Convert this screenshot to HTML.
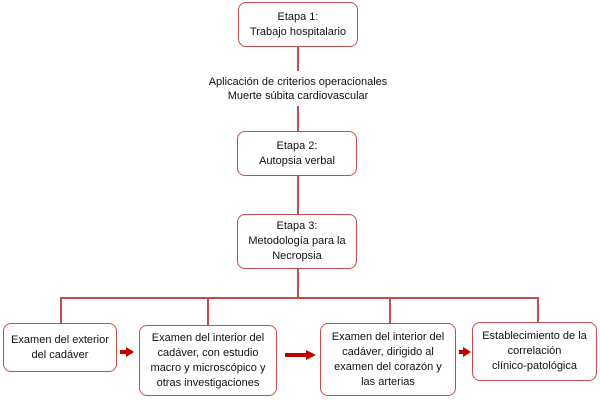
<!DOCTYPE html>
<html><head><meta charset="utf-8"><style>
body{margin:0;width:600px;height:401px;background:#fff;position:relative;overflow:hidden;font-family:"Liberation Sans",sans-serif;font-size:11px;color:#111}
.b{position:absolute;border:1.5px solid #c0504d;border-radius:8px;box-sizing:border-box;display:flex;align-items:center;justify-content:center;text-align:center;line-height:15px;background:#fff}
.l{position:absolute;background:#c0504d}
.t{position:absolute;text-align:center;line-height:14px}
</style></head><body>
<div class="b" style="left:238px;top:2px;width:120px;height:45px">Etapa 1:<br>Trabajo hospitalario</div>
<div class="l" style="left:297px;top:47px;width:1.5px;height:24px"></div>
<div class="t" style="left:150px;top:75px;width:296px">Aplicación de criterios operacionales<br>Muerte súbita cardiovascular</div>
<div class="l" style="left:297px;top:106px;width:1.5px;height:25px"></div>
<div class="b" style="left:237px;top:131px;width:120px;height:45px">Etapa 2:<br>Autopsia verbal</div>
<div class="l" style="left:297px;top:176px;width:1.5px;height:38px"></div>
<div class="b" style="left:237px;top:214px;width:120px;height:55px">Etapa 3:<br>Metodología para la<br>Necropsia</div>
<div class="l" style="left:297px;top:269px;width:1.5px;height:29px"></div>
<div class="l" style="left:60px;top:297px;width:478px;height:1.5px"></div>
<div class="l" style="left:60px;top:297px;width:1.5px;height:26px"></div>
<div class="l" style="left:207px;top:297px;width:1.5px;height:28px"></div>
<div class="l" style="left:389px;top:297px;width:1.5px;height:26px"></div>
<div class="l" style="left:537px;top:297px;width:1.5px;height:25px"></div>
<div class="b" style="left:3px;top:323px;width:114px;height:49px">Examen del exterior<br>del cadáver</div>
<div class="b" style="left:139px;top:325px;width:138px;height:71px">Examen del interior del<br>cadáver, con estudio<br>macro y microscópico y<br>otras investigaciones</div>
<div class="b" style="left:320px;top:323px;width:136px;height:73px">Examen del interior del<br>cadáver, dirigido al<br>examen del corazón y<br>las arterias</div>
<div class="b" style="left:472px;top:322px;width:125px;height:59px">Establecimiento de la<br>correlación<br>clínico-patológica</div>
<svg style="position:absolute;left:0;top:0" width="600" height="401">
<g fill="#c00000"><rect x="120" y="350" width="7" height="4"/><polygon points="126,347 134,352 126,357"/>
<rect x="285" y="353" width="22" height="4"/><polygon points="306,350 316,355 306,360"/>
<rect x="459" y="350" width="5" height="4"/><polygon points="463,347 471,352 463,357"/></g>
</svg>
</body></html>
